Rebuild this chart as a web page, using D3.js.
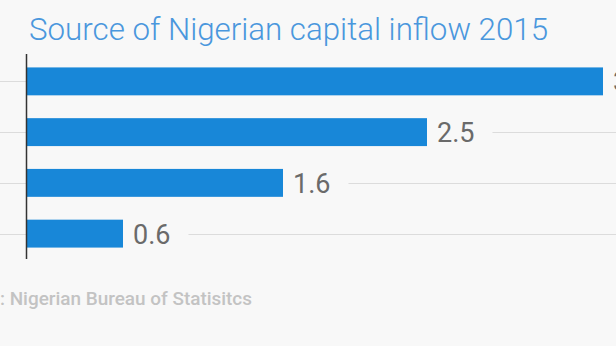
<!DOCTYPE html>
<html>
<head>
<meta charset="utf-8">
<script src="https://cdn.jsdelivr.net/npm/d3@7"></script>
<style>
  html, body { margin: 0; padding: 0; background: #f8f8f8; overflow: hidden; }
  svg { display: block; }
</style>
</head>
<body>
<svg id="chart" width="616" height="346"></svg>
<script>
// ---- data ----
const categories = ["Portfolio investment", "Other investment", "Loans", "Foreign direct investment"];
const values = [3.6, 2.5, 1.6, 0.6];
const valueLabels = ["3.6", "2.5", "1.6", "0.6"];
const titleText = "Source of Nigerian capital inflow 2015";
const sourceText = "Source: Nigerian Bureau of Statisitcs";

const W = 616, H = 346;
const bg = "#f8f8f8";
const svg = d3.select("#chart");
svg.append("rect").attr("width", W).attr("height", H).attr("fill", bg);

const x = d3.scaleLinear().domain([0, 3.6]).range([27, 603]);
const y = d3.scaleBand().domain(categories).range([56, 259]).paddingInner(0.45).paddingOuter(0.225);

const data = categories.map((c, i) => ({ c, v: values[i], label: valueLabels[i] }));

// gridlines through each row centre
svg.append("g").selectAll("line").data(data).join("line")
  .attr("x1", 0).attr("x2", W)
  .attr("y1", d => Math.round(y(d.c) + y.bandwidth() / 2) + 0.5)
  .attr("y2", d => Math.round(y(d.c) + y.bandwidth() / 2) + 0.5)
  .attr("stroke", "#dcdcdc").attr("stroke-width", 1);

// bars
svg.append("g").selectAll("rect").data(data).join("rect")
  .attr("x", x(0)).attr("y", d => y(d.c))
  .attr("width", d => x(d.v) - x(0))
  .attr("height", y.bandwidth())
  .attr("fill", "#1887d8");

// value labels with background patches
const lg = svg.append("g").selectAll("g").data(data).join("g");
const lt = lg.append("text")
  .attr("x", d => x(d.v) + 10)
  .attr("y", d => y(d.c) + y.bandwidth() / 2 + 10)
  .attr("font-family", "Roboto, sans-serif")
  .attr("font-weight", 400)
  .attr("font-size", 27)
  .attr("fill", "#6a6a6a")
  .text(d => d.label);
lt.each(function(d) {
  const w = this.getComputedTextLength();
  d3.select(this.parentNode).insert("rect", "text")
    .attr("x", x(d.v))
    .attr("y", y(d.c) + 2)
    .attr("width", w + 28)
    .attr("height", y.bandwidth() - 4)
    .attr("fill", bg);
});

// axis line
svg.append("line")
  .attr("x1", x(0) - 0.5).attr("x2", x(0) - 0.5)
  .attr("y1", y.range()[0] - 2).attr("y2", y.range()[1])
  .attr("stroke", "#333").attr("stroke-width", 1.5);

// title
svg.append("text")
  .attr("x", 29).attr("y", 40)
  .attr("font-family", "Roboto, sans-serif")
  .attr("font-weight", 300)
  .attr("font-size", 32)
  .attr("fill", "#4a97dd")
  .attr("textLength", 519)
  .attr("lengthAdjust", "spacingAndGlyphs")
  .text(titleText);

// source (cropped on the left in the reference)
const src = svg.append("text")
  .attr("x", 252).attr("y", 305)
  .attr("text-anchor", "end")
  .attr("font-family", "Roboto, sans-serif")
  .attr("font-weight", 500)
  .attr("font-size", 18)
  .attr("fill", "#c3c3c3")
  .text(sourceText);
// fit visible part ": Nigerian Bureau of Statisitcs" to ~252px
const node = src.node();
const full = node.getComputedTextLength();
const visible = sourceText.slice(6);
const tmp = svg.append("text").attr("font-family", "Roboto, sans-serif").attr("font-weight", 500)
  .attr("font-size", 18).text(visible);
const vis = tmp.node().getComputedTextLength();
tmp.remove();
const k = 252 / vis;
src.attr("textLength", full * k).attr("lengthAdjust", "spacingAndGlyphs");
</script>
</body>
</html>
